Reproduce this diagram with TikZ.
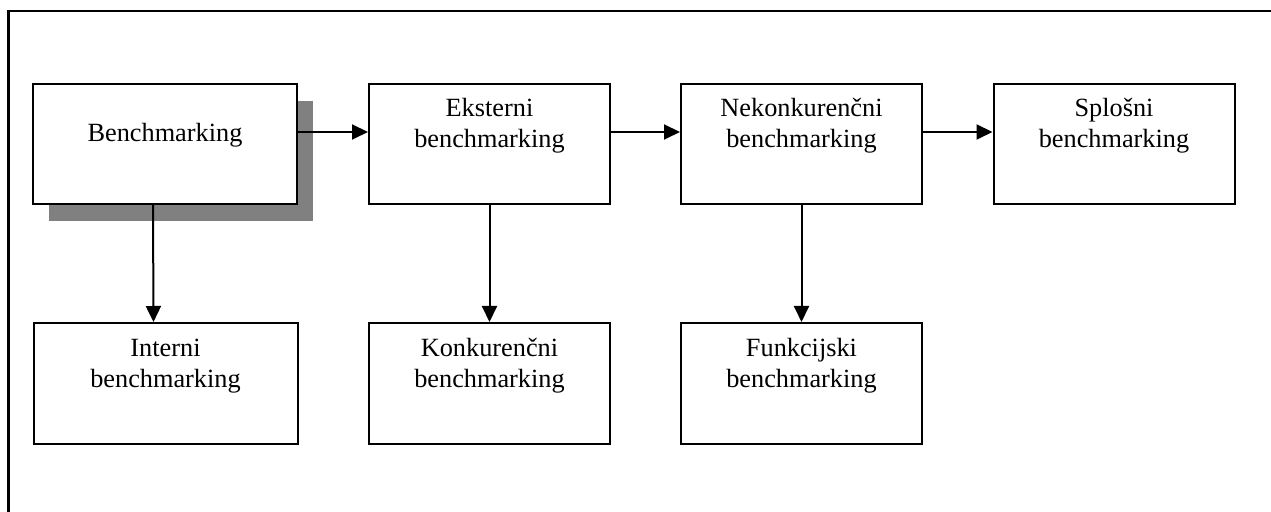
\documentclass[tikz,border=0pt]{standalone}
\usepackage{fontspec}
\setmainfont{Liberation Serif}
\usetikzlibrary{arrows.meta,shadows}
\definecolor{shadowgray}{HTML}{808080}
\begin{document}
\begin{tikzpicture}[x=0.5pt,y=-0.5pt,
  box/.style={draw, line width=1pt, fill=white, inner sep=0pt,
    minimum width=120.5pt, minimum height=60pt},
  widebox/.style={box, minimum width=132pt},
  lbl/.style={align=center, inner sep=0pt, anchor=base,
    font=\fontsize{13.15pt}{15.5pt}\selectfont},
  link/.style={line width=1pt, -{Triangle[length=8pt,width=7.5pt]}},
  frame/.style={line width=1.3pt}
]
\useasboundingbox (0,0) rectangle (1271,512);
\clip (0,0) rectangle (1271,512);

% outer frame
\draw[frame] (8.5,11) rectangle (1300,540);

% top row
\node[widebox, general shadow={fill=shadowgray, opacity=1,
  shadow xshift=8pt, shadow yshift=-8.5pt}] (bench) at (165,144) {};
\node[box] (ext)  at (489.5,144) {};
\node[box] (nek)  at (801.5,144) {};
\node[box] (splo) at (1114,144) {};

% bottom row
\node[widebox, minimum height=60.5pt] (int)  at (165.5,383.5) {};
\node[box, minimum height=60.5pt] (konk) at (489.5,383.5) {};
\node[box, minimum height=60.5pt] (funk) at (801.5,383.5) {};

% labels (base anchor sits on the last line)
\node[lbl] (bench-t) at ([yshift=-29.5pt]bench.north) {Benchmarking};
\node[lbl] (ext-t)  at ([yshift=-32.5pt]ext.north)  {Eksterni\\benchmarking};
\node[lbl] (nek-t)  at ([yshift=-32.5pt]nek.north)  {Nekonkurenčni\\benchmarking};
\node[lbl] (splo-t) at ([yshift=-32.5pt]splo.north) {Splošni\\benchmarking};
\node[lbl] (int-t)  at ([yshift=-33pt]int.north)  {Interni\\benchmarking};
\node[lbl] (konk-t) at ([yshift=-33pt]konk.north) {Konkurenčni\\benchmarking};
\node[lbl] (funk-t) at ([yshift=-33pt]funk.north) {Funkcijski\\benchmarking};

% connectors
\draw[link] ([yshift=6pt]bench.east) -- ([yshift=6pt]ext.west);
\draw[link] ([yshift=6pt]ext.east) -- ([yshift=6pt]nek.west);
\draw[link] ([yshift=6pt]nek.east) -- ([yshift=6pt]splo.west);
\draw[link] ([xshift=-6pt]bench.south) -- ([xshift=-6pt]int.north);
\draw[link] (ext.south) -- (konk.north);
\draw[link] (nek.south) -- (funk.north);
\end{tikzpicture}
\end{document}
